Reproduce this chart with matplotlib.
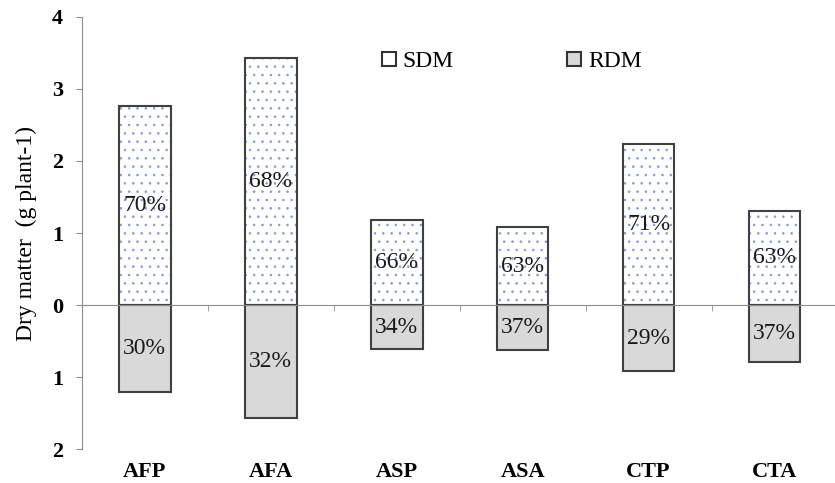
import numpy as np
import matplotlib.pyplot as plt
from matplotlib.patches import Patch
from matplotlib.ticker import FuncFormatter

plt.rcParams['font.family'] = ['Liberation Serif', 'DejaVu Serif']
plt.rcParams['hatch.linewidth'] = 0.6

# dry matter per treatment (g plant-1)
treat = ['AFP', 'AFA', 'ASP', 'ASA', 'CTP', 'CTA']
sdm = [2.76, 3.43, 1.18, 1.08, 2.24, 1.31]   # shoot dry matter
rdm = [1.21, 1.57, 0.61, 0.63, 0.92, 0.79]   # root dry matter (drawn downwards)
sdm_pct = ['70%', '68%', '66%', '63%', '71%', '63%']
rdm_pct = ['30%', '32%', '34%', '37%', '29%', '37%']

x = np.arange(len(treat))
w = 0.41
edge = '#404040'
grey = '#8c8c8c'

fig = plt.figure(figsize=(8.35, 4.83), dpi=100)
ax = fig.add_axes([0.098, 0.070, 0.905, 0.895])

# dotted fill for SDM, then the outline on top
ax.bar(x, sdm, w, color='white', edgecolor='#7f9be0', linewidth=0, hatch='..')
ax.bar(x, sdm, w, fill=False, edgecolor=edge, linewidth=1.5)
ax.bar(x, [-v for v in rdm], w, color='#d9d9d9', edgecolor=edge, linewidth=1.5)

for i in range(len(treat)):
    ax.text(x[i], sdm[i] / 2, sdm_pct[i], ha='center', va='center', fontsize=17, color='#1a1a1a')
    ax.text(x[i], -rdm[i] / 2, rdm_pct[i], ha='center', va='center', fontsize=17, color='#1a1a1a')

ax.set_xlim(-0.5, 5.5)
ax.set_ylim(-2, 4)
ax.set_yticks(range(-2, 5))
ax.yaxis.set_major_formatter(FuncFormatter(lambda v, p: '%d' % abs(v)))

ax.spines['top'].set_visible(False)
ax.spines['right'].set_visible(False)
ax.spines['left'].set_color(grey)
ax.spines['bottom'].set_color(grey)
ax.spines['bottom'].set_position(('data', 0))

ax.set_xticks(x)
ax.set_xticklabels(treat)
ax.set_xticks(np.arange(0.5, 5, 1), minor=True)
ax.tick_params(axis='x', which='major', length=0, pad=113, labelsize=16)
ax.tick_params(axis='x', which='minor', length=4, color=grey, direction='out')
ax.tick_params(axis='y', length=4.5, color=grey, labelsize=16, pad=9)
for lab in ax.get_xticklabels() + ax.get_yticklabels():
    lab.set_fontweight('bold')

ax.set_ylabel('Dry matter  (g plant-1)', fontsize=17, labelpad=11)

handles = [Patch(facecolor='white', edgecolor='#333333', linewidth=1.5),
           Patch(facecolor='#d9d9d9', edgecolor='#333333', linewidth=1.5)]
fig.legend(handles, ['SDM', 'RDM'], loc='center', bbox_to_anchor=(0.613, 0.872),
           ncol=2, frameon=False, fontsize=17, handlelength=0.6, handleheight=0.6,
           handletextpad=0.3, columnspacing=4.8)

fig.savefig('out.png', dpi=100)
